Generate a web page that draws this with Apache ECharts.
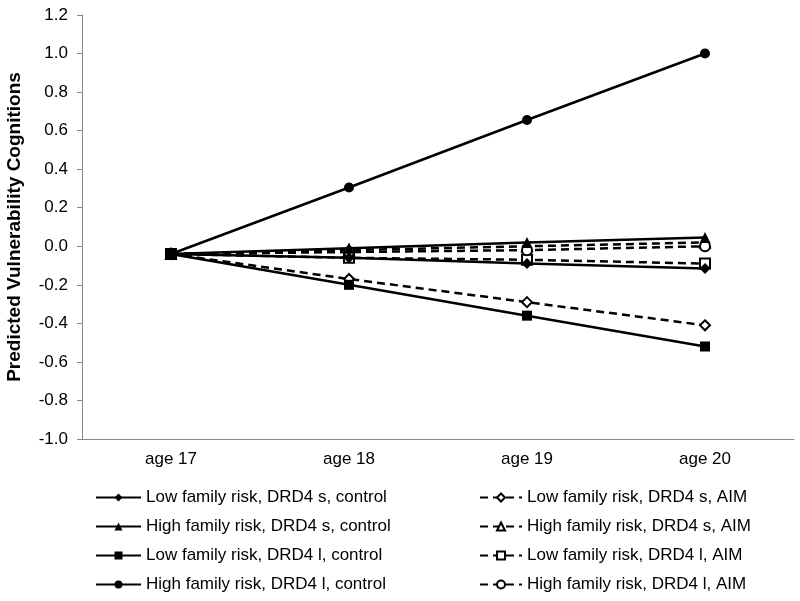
<!DOCTYPE html>
<html>
<head>
<meta charset="utf-8">
<script src="https://cdn.jsdelivr.net/npm/echarts@6/dist/echarts.min.js"></script>
<style>html,body{margin:0;padding:0;background:#fff}#c{width:800px;height:601px}</style>
</head>
<body>
<div id="c"></div>
<script>
var categories = ['age 17', 'age 18', 'age 19', 'age 20'];
var yTicks = [-1.0, -0.8, -0.6, -0.4, -0.2, 0.0, 0.2, 0.4, 0.6, 0.8, 1.0, 1.2];

var lowSControl  = [-0.04, -0.06, -0.09, -0.115];
var highSControl = [-0.04, -0.01, 0.02, 0.045];
var lowLControl  = [-0.04, -0.20, -0.36, -0.52];
var highLControl = [-0.04, 0.305, 0.655, 1.00];
var lowSAIM      = [-0.04, -0.17, -0.29, -0.41];
var highSAIM     = [-0.04, -0.02, 0.00, 0.02];
var lowLAIM      = [-0.04, -0.06, -0.07, -0.09];
var highLAIM     = [-0.04, -0.03, -0.02, 0.00];

var names = [
  'Low family risk, DRD4 s, control',
  'High family risk, DRD4 s, control',
  'Low family risk, DRD4 l, control',
  'High family risk, DRD4 l, control',
  'Low family risk, DRD4 s, AIM',
  'High family risk, DRD4 s, AIM',
  'Low family risk, DRD4 l, AIM',
  'High family risk, DRD4 l, AIM'
];

function mk(name, data, symbol, size, dashed, z) {
  return {
    name: name, type: 'line', data: data, symbol: symbol, symbolSize: size,
    showSymbol: true, z: z,
    lineStyle: { color: '#000', width: 2.5, type: dashed ? [8, 5] : 'solid' },
    itemStyle: { color: '#000', borderColor: '#000', borderWidth: dashed ? 1.3 : 0 },
    emphasis: { disabled: true },
    animation: false
  };
}

var chart = echarts.init(document.getElementById('c'));
var fontFam = 'Liberation Sans, Arial, sans-serif';
chart.setOption({
  backgroundColor: '#fff',
  animation: false,
  grid: { left: 82, right: 6, top: 15, bottom: 162, containLabel: false, outerBoundsMode: 'none' },
  xAxis: {
    type: 'category', data: categories, boundaryGap: true,
    axisLine: { onZero: false, lineStyle: { color: '#888', width: 1 } },
    axisTick: { show: false },
    axisLabel: { color: '#000', fontSize: 17, fontFamily: fontFam, margin: 12 }
  },
  yAxis: {
    type: 'value', min: -1.0, max: 1.2, interval: 0.2,
    name: 'Predicted Vulnerability Cognitions',
    nameLocation: 'middle', nameGap: 58, nameRotate: 90,
    nameTextStyle: { color: '#000', fontSize: 19, fontWeight: 'bold', fontFamily: fontFam },
    axisLine: { show: true, lineStyle: { color: '#888', width: 1 } },
    axisTick: { show: true, length: 5, lineStyle: { color: '#888' } },
    splitLine: { show: false },
    axisLabel: { color: '#000', fontSize: 17, fontFamily: fontFam, margin: 14,
      formatter: function (v) { return v.toFixed(1); } }
  },
  legend: [
    {
      data: names.slice(0, 4), orient: 'vertical', left: 95, top: 489, height: 112, padding: 0,
      itemWidth: 45, itemHeight: 10, itemGap: 12,
      textStyle: { color: '#000', fontSize: 17, fontFamily: fontFam }
    },
    {
      data: names.slice(4, 8), orient: 'vertical', left: 479, top: 489, height: 112, padding: 0,
      itemWidth: 42, itemHeight: 10, itemGap: 12,
      textStyle: { color: '#000', fontSize: 17, fontFamily: fontFam }
    }
  ],
  series: [
    mk(names[0], lowSControl, 'diamond', 11, false, 3),
    mk(names[1], highSControl, 'triangle', 11, false, 3),
    mk(names[2], lowLControl, 'rect', 10, false, 3),
    mk(names[3], highLControl, 'circle', 10, false, 3),
    mk(names[4], lowSAIM, 'emptyDiamond', 10, true, 2),
    mk(names[5], highSAIM, 'emptyTriangle', 10, true, 2),
    mk(names[6], lowLAIM, 'emptyRect', 10, true, 2),
    mk(names[7], highLAIM, 'emptyCircle', 10, true, 2)
  ]
});
</script>
</body>
</html>
